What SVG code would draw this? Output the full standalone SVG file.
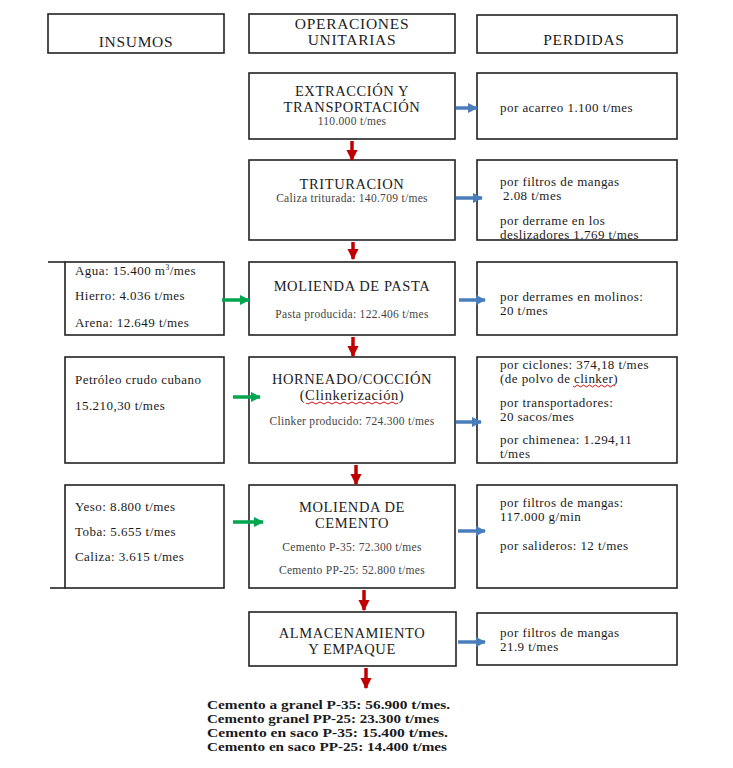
<svg xmlns="http://www.w3.org/2000/svg" width="733" height="768" viewBox="0 0 733 768">
<style>
.b{fill:#fff;stroke:#222;stroke-width:1.6}
.hd{font-family:"Liberation Serif","Times New Roman",serif;font-size:15.5px;letter-spacing:0.7px;fill:#222;text-anchor:middle}
.h{font-family:"Liberation Serif","Times New Roman",serif;font-size:14.5px;letter-spacing:0.6px;fill:#222;text-anchor:middle}
.s{font-family:"Liberation Serif","Times New Roman",serif;font-size:11.5px;letter-spacing:0.3px;fill:#444;text-anchor:middle}
.t{font-family:"Liberation Serif","Times New Roman",serif;font-size:13px;letter-spacing:0.45px;fill:#1a1a1a}
.o{font-family:"Liberation Serif","Times New Roman",serif;font-size:12.5px;fill:#1a1a1a;font-weight:bold}
.r{stroke:#c00000;stroke-width:3.5;fill:none}
.bl{stroke:#4a7ebb;stroke-width:3.5;fill:none}
.g{stroke:#00a550;stroke-width:3.5;fill:none}
.w{stroke:#d01010;stroke-width:1;fill:none}
</style>
<defs>
<marker id="mr" viewBox="0 0 10 10" refX="9" refY="5" markerWidth="3.2" markerHeight="3.2" orient="auto" markerUnits="strokeWidth"><path d="M0,0 L10,5 L0,10 Z" fill="#c00000"/></marker>
<marker id="mb" viewBox="0 0 10 10" refX="9" refY="5" markerWidth="3" markerHeight="3" orient="auto" markerUnits="strokeWidth"><path d="M0,0 L10,5 L0,10 Z" fill="#4a7ebb"/></marker>
<marker id="mg" viewBox="0 0 10 10" refX="9" refY="5" markerWidth="3" markerHeight="3" orient="auto" markerUnits="strokeWidth"><path d="M0,0 L10,5 L0,10 Z" fill="#00a550"/></marker>
</defs>
<rect width="733" height="768" fill="#fff"/>

<g id="hdr-insumos"><rect class="b" x="48" y="14" width="176" height="39"/><text class="hd" x="136" y="47">INSUMOS</text></g>
<g id="hdr-operaciones"><rect class="b" x="249" y="14" width="206" height="39"/><text class="hd" x="352" y="29">OPERACIONES</text><text class="hd" x="352" y="45">UNITARIAS</text></g>
<g id="hdr-perdidas"><rect class="b" x="477" y="15" width="200" height="38"/><text class="hd" x="584" y="45">PERDIDAS</text></g>

<g id="op-extraccion"><rect class="b" x="249" y="73" width="206" height="66"/><text class="h" x="352" y="96">EXTRACCIÓN Y</text><text class="h" x="352" y="112">TRANSPORTACIÓN</text><text class="s" x="352" y="125">110.000 t/mes</text></g>
<g id="op-trituracion"><rect class="b" x="249" y="160" width="206" height="80"/><text class="h" x="352" y="189">TRITURACION</text><text class="s" x="352" y="202">Caliza triturada: 140.709 t/mes</text></g>
<g id="op-molienda-pasta"><rect class="b" x="249" y="262" width="206" height="73"/><text class="h" x="352" y="291">MOLIENDA DE PASTA</text><text class="s" x="352" y="318">Pasta producida: 122.406 t/mes</text></g>
<g id="op-horneado"><rect class="b" x="249" y="357" width="206" height="106"/><text class="h" x="352" y="384">HORNEADO/COCCIÓN</text><text class="h" x="352" y="400">(Clinkerización)</text><path class="w" d="M306,403 q2,2 4,0 t4,0 t4,0 t4,0 t4,0 t4,0 t4,0 t4,0 t4,0 t4,0 t4,0 t4,0 t4,0 t4,0 t4,0 t4,0 t4,0 t4,0 t4,0 t4,0 t4,0 t4,0 t4,0"/><text class="s" x="352" y="425">Clinker producido: 724.300 t/mes</text></g>
<g id="op-molienda-cemento"><rect class="b" x="249" y="485" width="206" height="103"/><text class="h" x="352" y="512">MOLIENDA DE</text><text class="h" x="352" y="528">CEMENTO</text><text class="s" x="352" y="551">Cemento P-35: 72.300 t/mes</text><text class="s" x="352" y="574">Cemento PP-25: 52.800 t/mes</text></g>
<g id="op-almacenamiento"><rect class="b" x="249" y="612" width="207" height="54"/><text class="h" x="352" y="638">ALMACENAMIENTO</text><text class="h" x="352" y="654">Y EMPAQUE</text></g>

<g id="in-agua"><rect class="b" x="65" y="262" width="159" height="73"/><line x1="48" y1="262" x2="65" y2="262" stroke="#222" stroke-width="1.6"/><text class="t" x="75" y="275">Agua: 15.400 m<tspan font-size="7.5" dy="-5">3</tspan><tspan dy="5">/mes</tspan></text><text class="t" x="75" y="300">Hierro: 4.036 t/mes</text><text class="t" x="75" y="327">Arena: 12.649 t/mes</text></g>
<g id="in-petroleo"><rect class="b" x="65" y="357" width="159" height="106"/><text class="t" x="75" y="384">Petróleo crudo cubano</text><text class="t" x="75" y="410">15.210,30 t/mes</text></g>
<g id="in-yeso"><rect class="b" x="65" y="485" width="159" height="103"/><line x1="50" y1="588" x2="65" y2="588" stroke="#222" stroke-width="1.6"/><text class="t" x="75" y="511">Yeso: 8.800 t/mes</text><text class="t" x="75" y="536">Toba: 5.655 t/mes</text><text class="t" x="75" y="561">Caliza: 3.615 t/mes</text></g>

<g id="pe-acarreo"><rect class="b" x="477" y="73" width="200" height="66"/><text class="t" x="500" y="112">por acarreo 1.100 t/mes</text></g>
<g id="pe-trituracion"><rect class="b" x="477" y="160" width="200" height="80"/><text class="t" x="500" y="186">por filtros de mangas</text><text class="t" x="503" y="200">2.08 t/mes</text><text class="t" x="500" y="225">por derrame en los</text><text class="t" x="500" y="239">deslizadores 1.769 t/mes</text></g>
<g id="pe-molinos"><rect class="b" x="477" y="262" width="200" height="73"/><text class="t" x="500" y="301">por derrames en molinos:</text><text class="t" x="500" y="315">20 t/mes</text></g>
<g id="pe-horneado"><rect class="b" x="477" y="357" width="200" height="106"/><text class="t" x="500" y="369">por ciclones: 374,18 t/mes</text><text class="t" x="500" y="383">(de polvo de clinker)</text><path class="w" d="M573,386 q1.5,2 3,0 t3,0 t3,0 t3,0 t3,0 t3,0 t3,0 t3,0 t3,0 t3,0 t3,0 t3,0 t3,0 t3,0"/><text class="t" x="500" y="407">por transportadores:</text><text class="t" x="500" y="421">20 sacos/mes</text><text class="t" x="500" y="444">por chimenea: 1.294,11</text><text class="t" x="500" y="458">t/mes</text></g>
<g id="pe-cemento"><rect class="b" x="477" y="485" width="200" height="103"/><text class="t" x="500" y="507">por filtros de mangas:</text><text class="t" x="500" y="521">117.000 g/min</text><text class="t" x="500" y="550">por salideros: 12 t/mes</text></g>
<g id="pe-almacen"><rect class="b" x="477" y="613" width="200" height="52"/><text class="t" x="500" y="637">por filtros de mangas</text><text class="t" x="500" y="651">21.9 t/mes</text></g>

<g id="salida"><text class="o" x="207" y="709" textLength="243" lengthAdjust="spacingAndGlyphs">Cemento a granel P-35: 56.900 t/mes.</text><text class="o" x="207" y="723" textLength="232" lengthAdjust="spacingAndGlyphs">Cemento granel PP-25: 23.300 t/mes</text><text class="o" x="207" y="737" textLength="241" lengthAdjust="spacingAndGlyphs">Cemento en saco P-35: 15.400 t/mes.</text><text class="o" x="207" y="751" textLength="240" lengthAdjust="spacingAndGlyphs">Cemento en saco PP-25: 14.400 t/mes</text></g>

<g id="connectors">
<line class="r" x1="352" y1="141" x2="352" y2="160" marker-end="url(#mr)"/>
<line class="r" x1="353" y1="242" x2="353" y2="259" marker-end="url(#mr)"/>
<line class="r" x1="353" y1="337" x2="353" y2="356" marker-end="url(#mr)"/>
<line class="r" x1="356" y1="465" x2="356" y2="484" marker-end="url(#mr)"/>
<line class="r" x1="364" y1="590" x2="364" y2="610" marker-end="url(#mr)"/>
<line class="r" x1="366" y1="668" x2="366" y2="688" marker-end="url(#mr)"/>
<line class="bl" x1="456" y1="108" x2="477" y2="108" marker-end="url(#mb)"/>
<line class="bl" x1="456" y1="198" x2="482" y2="198" marker-end="url(#mb)"/>
<line class="bl" x1="459" y1="300" x2="485" y2="300" marker-end="url(#mb)"/>
<line class="bl" x1="456" y1="422" x2="481" y2="422" marker-end="url(#mb)"/>
<line class="bl" x1="458" y1="531" x2="485" y2="531" marker-end="url(#mb)"/>
<line class="bl" x1="458" y1="642" x2="485" y2="642" marker-end="url(#mb)"/>
<line class="g" x1="222" y1="300" x2="249" y2="300" marker-end="url(#mg)"/>
<line class="g" x1="233" y1="397" x2="260" y2="397" marker-end="url(#mg)"/>
<line class="g" x1="233" y1="522" x2="263" y2="522" marker-end="url(#mg)"/>
</g>
</svg>
